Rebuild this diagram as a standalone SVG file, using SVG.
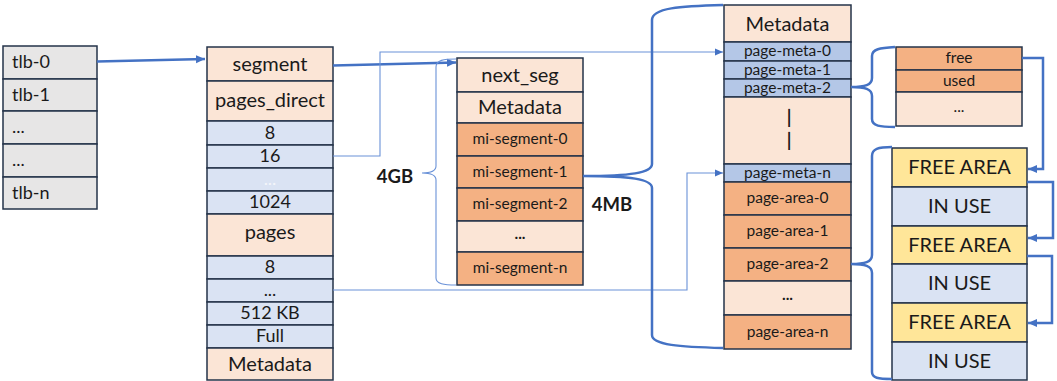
<svg xmlns="http://www.w3.org/2000/svg" width="1057" height="381" viewBox="0 0 1057 381">
<style>
.b{stroke:#243349;stroke-width:1.5}
.peach{fill:#FBE5D6}.orange{fill:#F4B183}.lblue{fill:#DAE3F3}.mblue{fill:#B4C7E7}.yellow{fill:#FFE699}.gray{fill:#E7E6E6}
text{font-family:Lato,"Liberation Sans",sans-serif;fill:#1a1a1a;text-anchor:middle;dominant-baseline:central;transform:translateY(-1.5px)}
.l{text-anchor:start}
.f19{font-size:20px}.f17{font-size:18px}.f15{font-size:15.5px}
.bold{font-weight:bold}
.thick{fill:none;stroke:#4472C4;stroke-width:2.5}
.thin{fill:none;stroke:#6A92D8;stroke-width:1.1}
</style>
<defs>
<marker id="ah" markerUnits="userSpaceOnUse" markerWidth="10" markerHeight="10" refX="9" refY="5" orient="auto"><path d="M0,1 L9,5 L0,9 Z" fill="#4472C4"/></marker>
<marker id="ahs" markerUnits="userSpaceOnUse" markerWidth="9" markerHeight="9" refX="8" refY="4.5" orient="auto"><path d="M0,1 L8,4.5 L0,8 Z" fill="#4472C4"/></marker>
</defs>

<g id="tlb">
<rect class="b gray" x="3" y="46" width="94" height="33"/><text class="l f17" x="12" y="62.5">tlb-0</text>
<rect class="b gray" x="3" y="79" width="94" height="32"/><text class="l f17" x="12" y="95">tlb-1</text>
<rect class="b gray" x="3" y="111" width="94" height="33"/><text class="l f17" x="12" y="127.5">...</text>
<rect class="b gray" x="3" y="144" width="94" height="33"/><text class="l f17" x="12" y="160.5">...</text>
<rect class="b gray" x="3" y="177" width="94" height="32"/><text class="l f17" x="12" y="193">tlb-n</text>
</g>

<g id="segment">
<rect class="b peach" x="207" y="47" width="126" height="34"/><text class="f19" x="270" y="64">segment</text>
<rect class="b peach" x="207" y="81" width="126" height="40"/><text class="f19" x="270" y="100">pages_direct</text>
<rect class="b lblue" x="207" y="121" width="126" height="24"/><text class="f17" x="270" y="133">8</text>
<rect class="b lblue" x="207" y="145" width="126" height="23"/><text class="f17" x="270" y="156.5">16</text>
<rect class="b lblue" x="207" y="168" width="126" height="23"/><text class="f17" x="270" y="179.5" style="fill:#f4f6fa">...</text>
<rect class="b lblue" x="207" y="191" width="126" height="23"/><text class="f17" x="270" y="202.5">1024</text>
<rect class="b peach" x="207" y="214" width="126" height="42"/><text class="f19" x="270" y="232">pages</text>
<rect class="b lblue" x="207" y="256" width="126" height="23"/><text class="f17" x="270" y="267.5">8</text>
<rect class="b lblue" x="207" y="279" width="126" height="23"/><text class="f17" x="270" y="290">...</text>
<rect class="b lblue" x="207" y="302" width="126" height="23"/><text class="f17" x="270" y="313.5">512 KB</text>
<rect class="b lblue" x="207" y="325" width="126" height="23"/><text class="f17" x="270" y="336.5">Full</text>
<rect class="b peach" x="207" y="348" width="126" height="32"/><text class="f19" x="270" y="364">Metadata</text>
</g>

<g id="mi-segments">
<rect class="b peach" x="457" y="58" width="126" height="34"/><text class="f19" x="520" y="75">next_seg</text>
<rect class="b peach" x="457" y="92" width="126" height="31"/><text class="f19" x="520" y="107.5">Metadata</text>
<rect class="b orange" x="457" y="123" width="126" height="33"/><text class="f15" x="520" y="139.5">mi-segment-0</text>
<rect class="b orange" x="457" y="156" width="126" height="32"/><text class="f15" x="520" y="172">mi-segment-1</text>
<rect class="b orange" x="457" y="188" width="126" height="33"/><text class="f15" x="520" y="204.5">mi-segment-2</text>
<rect class="b peach" x="457" y="221" width="126" height="31"/><text class="f15 bold" x="520" y="234">...</text>
<rect class="b orange" x="457" y="252" width="126" height="33"/><text class="f15" x="520" y="268.5">mi-segment-n</text>
</g>

<g id="mi-segment-detail">
<rect class="b peach" x="724" y="5" width="127" height="37"/><text class="f19" x="787.5" y="24">Metadata</text>
<rect class="b mblue" x="724" y="42" width="127" height="19"/><text class="f15" x="787.5" y="51.5">page-meta-0</text>
<rect class="b mblue" x="724" y="61" width="127" height="18"/><text class="f15" x="787.5" y="70">page-meta-1</text>
<rect class="b mblue" x="724" y="79" width="127" height="18"/><text class="f15" x="787.5" y="88">page-meta-2</text>
<rect class="b peach" x="724" y="97" width="127" height="67"/>
<text class="f17 bold" x="789" y="118">|</text><text class="f17 bold" x="789" y="141">|</text>
<rect class="b mblue" x="724" y="164" width="127" height="18"/><text class="f15" x="787.5" y="173">page-meta-n</text>
<rect class="b orange" x="724" y="182" width="127" height="33"/><text class="f15" x="787.5" y="198.5">page-area-0</text>
<rect class="b orange" x="724" y="215" width="127" height="33"/><text class="f15" x="787.5" y="231.5">page-area-1</text>
<rect class="b orange" x="724" y="248" width="127" height="33"/><text class="f15" x="787.5" y="264.5">page-area-2</text>
<rect class="b peach" x="724" y="281" width="127" height="34"/><text class="f15 bold" x="787.5" y="295">...</text>
<rect class="b orange" x="724" y="315" width="127" height="34"/><text class="f15" x="787.5" y="332">page-area-n</text>
</g>

<g id="page-meta">
<rect class="b orange" x="896" y="47" width="126" height="23"/><text class="f15" x="959" y="58.5">free</text>
<rect class="b orange" x="896" y="70" width="126" height="22"/><text class="f15" x="959" y="81">used</text>
<rect class="b peach" x="896" y="92" width="126" height="34"/><text class="f15" x="959" y="107">...</text>
</g>

<g id="page-area">
<rect class="b yellow" x="892" y="148" width="135" height="39"/><text class="f19" x="959.5" y="167.5">FREE AREA</text>
<rect class="b lblue" x="892" y="187" width="135" height="39"/><text class="f19" x="959.5" y="206.5">IN USE</text>
<rect class="b yellow" x="892" y="226" width="135" height="38"/><text class="f19" x="959.5" y="245">FREE AREA</text>
<rect class="b lblue" x="892" y="264" width="135" height="39"/><text class="f19" x="959.5" y="283.5">IN USE</text>
<rect class="b yellow" x="892" y="303" width="135" height="39"/><text class="f19" x="959.5" y="322.5">FREE AREA</text>
<rect class="b lblue" x="892" y="342" width="135" height="38"/><text class="f19" x="959.5" y="361">IN USE</text>
</g>

<g id="labels">
<text class="bold" style="font-size:18.5px" x="395" y="177">4GB</text>
<text class="bold" style="font-size:18.5px" x="612" y="205">4MB</text>
</g>

<g id="connectors">
<path class="thick" d="M97,61.5 L205,59" marker-end="url(#ah)"/>
<path class="thick" d="M333,65.5 L456,62.5" marker-end="url(#ah)"/>
<path class="thin" d="M333,156 H380 V52 H723" marker-end="url(#ahs)"/>
<path class="thin" d="M333,290 H687 V173 H723" marker-end="url(#ahs)"/>
<path class="thin" d="M456,59 C444,59 436,60 436,67 V166 C436,171 430,173 422,173 C430,173 436,175 436,180 V278 C436,284 444,285 456,285"/>
<path class="thick" d="M723,5 C680,6 652,8 652,20 V164 C652,173 630,176 583,176 C630,176 652,179 652,188 V335 C652,345 680,347 723,348"/>
<path class="thick" d="M895,47 C880,48 872,49 872,56 V78 C872,85 865,87 851,87 C865,87 872,89 872,96 V119 C872,126 880,127 895,127"/>
<path class="thick" d="M892,147 C878,147 872,149 872,156 V255 C872,262 865,264 851,264 C865,264 872,266 872,273 V372 C872,378 878,379 892,379"/>
<path class="thick" d="M1022,58 H1043 V169 H1028" marker-end="url(#ah)"/>
<path class="thick" d="M1027,182 H1053 V238 H1028" marker-end="url(#ah)"/>
<path class="thick" d="M1027,256 H1052 V323 H1028" marker-end="url(#ah)"/>
</g>
</svg>
